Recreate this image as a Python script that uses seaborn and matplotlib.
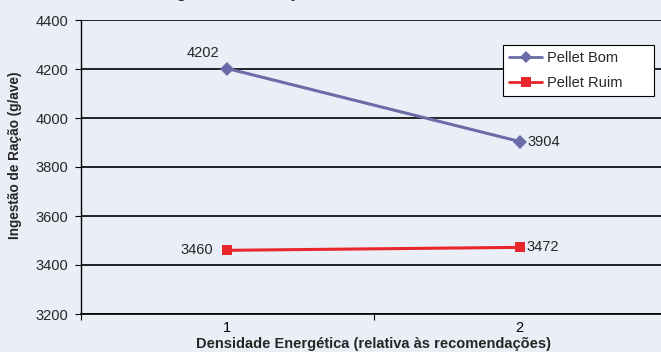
import matplotlib
matplotlib.use("Agg")
import matplotlib.pyplot as plt
import seaborn as sns
import pandas as pd

# ---- data ----
x_vals = [1, 2]
x_labels = ["1", "2"]
series_names = ["Pellet Bom", "Pellet Ruim"]
pellet_bom = [4202, 3904]
pellet_ruim = [3460, 3472]
y_ticks = [3200, 3400, 3600, 3800, 4000, 4200, 4400]

title_text = "Ingestão de Ração"
x_title = "Densidade Energética (relativa às recomendações)"
y_title = "Ingestão de Ração (g/ave)"

df = pd.DataFrame({
    "x": x_vals * 2,
    "y": pellet_bom + pellet_ruim,
    "serie": [series_names[0]] * 2 + [series_names[1]] * 2,
})

bg = "#EAEEF6"
colors = {"Pellet Bom": "#6B6BA8", "Pellet Ruim": "#E8262B"}

sns.set_theme(style="white")
plt.rcParams["font.family"] = ["Liberation Sans", "DejaVu Sans"]

fig = plt.figure(figsize=(6.61, 3.52), dpi=100, facecolor=bg)
ax = fig.add_axes([81 / 661, (352 - 314) / 352, 585 / 661, 294 / 352])
ax.set_facecolor(bg)

sns.lineplot(data=df, x="x", y="y", hue="serie", style="serie",
             markers={"Pellet Bom": "D", "Pellet Ruim": "s"}, dashes=False,
             palette=colors, linewidth=2.2, markersize=7.5, markeredgewidth=0,
             ax=ax, legend=False, zorder=3)

ax.set_xlim(0.5, 2.5)
ax.set_ylim(3200, 4400)
ax.set_yticks(y_ticks)
ax.set_yticklabels([str(v) for v in y_ticks], fontsize=10.5)
ax.set_xticks(x_vals)
ax.set_xticklabels(x_labels, fontsize=10.5)
ax.set_xticks([0.5, 1.5, 2.5], minor=True)
ax.tick_params(axis="x", which="major", length=0, pad=5, colors="black")
ax.tick_params(axis="x", which="minor", length=4, width=0.8, color="black", bottom=True)
ax.tick_params(axis="y", which="major", length=4, width=0.8, color="black", left=True, pad=5)

ax.yaxis.grid(True, color="black", linewidth=1.2, zorder=1)
ax.set_axisbelow(True)
for side in ["top", "right"]:
    ax.spines[side].set_visible(False)
ax.spines["left"].set_color("black")
ax.spines["left"].set_linewidth(1.0)
ax.spines["bottom"].set_color("black")
ax.spines["bottom"].set_linewidth(1.2)

ax.set_xlabel(x_title, fontsize=10.5, fontweight="bold")
ax.set_ylabel(y_title, fontsize=9.8, fontweight="bold")
# place axis titles (pixel positions converted to axes fraction)
ax.xaxis.set_label_coords((373 - 81) / 585, -(344 - 314) / 294)
ax.xaxis.label.set_va("center")
ax.yaxis.set_label_coords(-(81 - 15) / 585, (314 - 155) / 294)
ax.yaxis.label.set_va("center")

# value labels
offsets_bom = [((-24, 16), "center"), ((8, 0), "left")]
offsets_ruim = [((-14, 0), "right"), ((7, 0), "left")]
for xv, yv, (off, ha) in zip(x_vals, pellet_bom, offsets_bom):
    ax.annotate(str(yv), (xv, yv), xytext=off, textcoords="offset pixels",
                ha=ha, va="center", fontsize=10.5)
for xv, yv, (off, ha) in zip(x_vals, pellet_ruim, offsets_ruim):
    ax.annotate(str(yv), (xv, yv), xytext=off, textcoords="offset pixels",
                ha=ha, va="center", fontsize=10.5)

# legend
handles = [
    plt.Line2D([], [], color=colors["Pellet Bom"], marker="D", markersize=6.5, lw=2, markeredgewidth=0),
    plt.Line2D([], [], color=colors["Pellet Ruim"], marker="s", markersize=6.5, lw=2, markeredgewidth=0),
]
leg = ax.legend(handles, series_names, loc="upper left", mode="expand",
                bbox_to_anchor=(503 / 661, (352 - 96) / 352, 151 / 661, 51 / 352),
                bbox_transform=fig.transFigure,
                fontsize=10.5, frameon=True, fancybox=False, framealpha=1,
                edgecolor="black", facecolor="white", borderpad=0.4,
                handlelength=2.3, handletextpad=0.3, labelspacing=0.75,
                borderaxespad=0)
leg.get_frame().set_linewidth(0.8)

# clipped title (only descenders visible at the top edge, as in the reference)
fig.text(160 / 661, 1 + 3 / 352, title_text, fontsize=13, fontweight="bold",
         ha="left", va="baseline")

fig.savefig("out.png", dpi=100, facecolor=bg)
